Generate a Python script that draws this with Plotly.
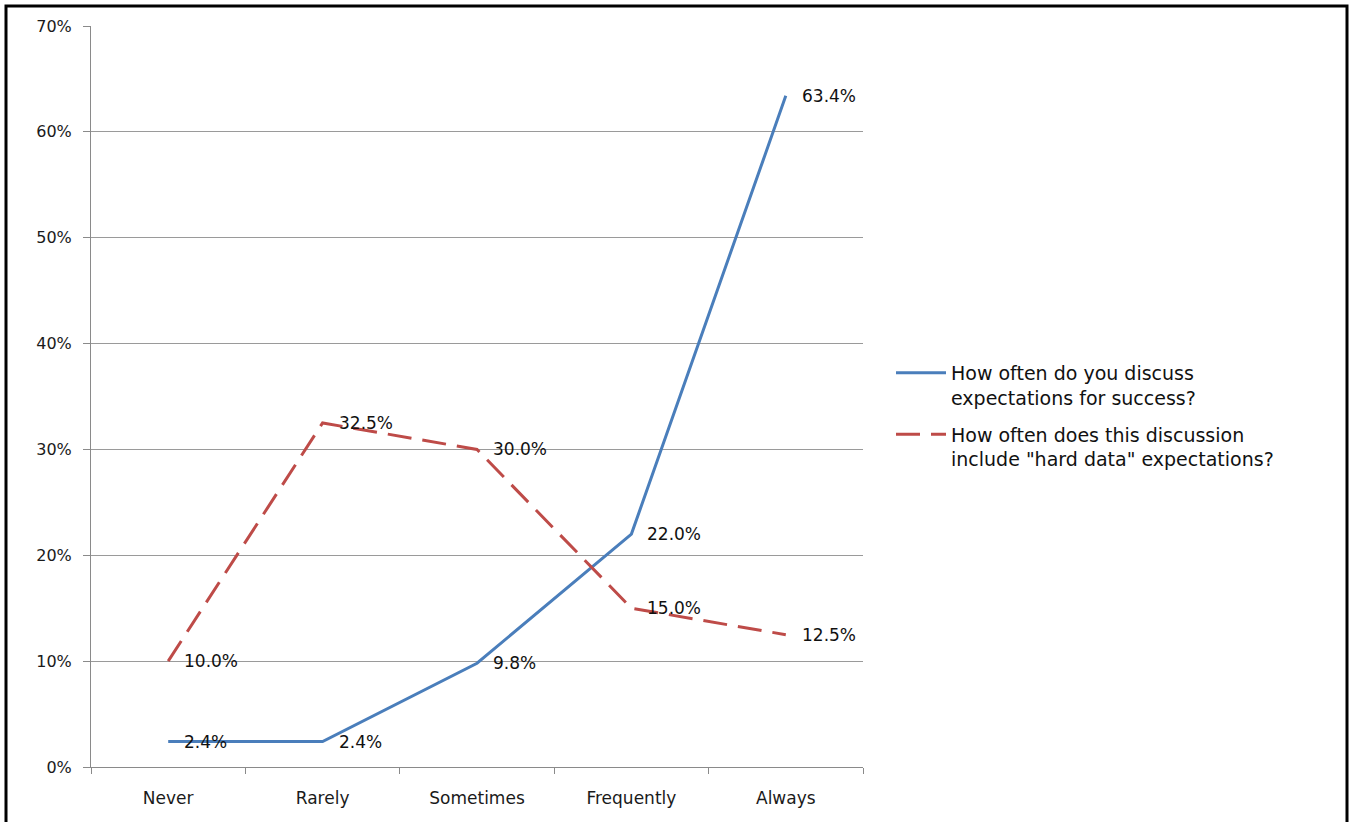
import plotly.graph_objects as go

categories = ["Never", "Rarely", "Sometimes", "Frequently", "Always"]
discuss_expectations = [2.4, 2.4, 9.8, 22.0, 63.4]
hard_data = [10.0, 32.5, 30.0, 15.0, 12.5]
y_ticks = [0, 10, 20, 30, 40, 50, 60, 70]

name_discuss = "How often do you discuss<br>expectations for success?"
name_hard = "How often does this discussion<br>include \"hard data\" expectations?"

BLUE = "#4A7EBB"
RED = "#BE4B48"
FONT = "DejaVu Sans"
W, H = 1354, 822
L, R, T, B = 91, 491, 26, 55

fig = go.Figure()
fig.add_trace(go.Scatter(x=categories, y=discuss_expectations, mode="lines",
                         name=name_discuss, legendgroup="discuss",
                         line=dict(color=BLUE, width=3)))
fig.add_trace(go.Scatter(x=categories, y=hard_data, mode="lines",
                         name=name_hard, legendgroup="hard",
                         line=dict(color=RED, width=3, dash="24px,11px")))

# value labels to the right of each point
for series in (discuss_expectations, hard_data):
    for cat, v in zip(categories, series):
        fig.add_annotation(x=cat, y=v, text=f"{v:.1f}%", showarrow=False,
                           xanchor="left", yanchor="middle", xshift=14,
                           font=dict(family=FONT, size=17, color="#111"))

# outer frame, placed in pixel terms converted to paper coordinates
pw, ph = W - L - R, H - T - B
def px_x(p):
    return (p - L) / pw
def px_y(p):
    return (H - B - p) / ph
fig.add_shape(type="rect", xref="paper", yref="paper",
              x0=px_x(6), x1=px_x(1347), y0=px_y(840), y1=px_y(6),
              line=dict(color="black", width=3), fillcolor="rgba(0,0,0,0)")

fig.update_layout(
    width=W, height=H,
    margin=dict(l=L, r=R, t=T, b=B, autoexpand=False),
    paper_bgcolor="white", plot_bgcolor="white",
    font=dict(family=FONT, size=16, color="#222"),
    legend=dict(x=px_x(891), y=px_y(416), xanchor="left", yanchor="middle",
                font=dict(family=FONT, size=19, color="#111"), valign="top",
                traceorder="grouped", tracegroupgap=9, itemwidth=50,
                bgcolor="rgba(0,0,0,0)"),
    showlegend=True,
)
fig.update_xaxes(type="category", range=[-0.5, 4.5], showline=True, linecolor="#8a8a8a",
                 linewidth=1, ticks="outside", tickson="boundaries", ticklen=6,
                 tickcolor="#8a8a8a", showgrid=False, ticklabelstandoff=16,
                 tickfont=dict(family=FONT, size=17, color="#1a1a1a"))
fig.update_yaxes(range=[0, 70], tickvals=y_ticks, ticktext=[f"{t}%" for t in y_ticks],
                 showline=True, linecolor="#8a8a8a", linewidth=1, ticks="outside",
                 ticklen=7, tickcolor="#8a8a8a", showgrid=True, gridcolor="#9a9a9a",
                 gridwidth=1, zeroline=False, ticklabelstandoff=8,
                 tickfont=dict(family=FONT, size=16, color="#1a1a1a"))

fig.write_html("out.html")
